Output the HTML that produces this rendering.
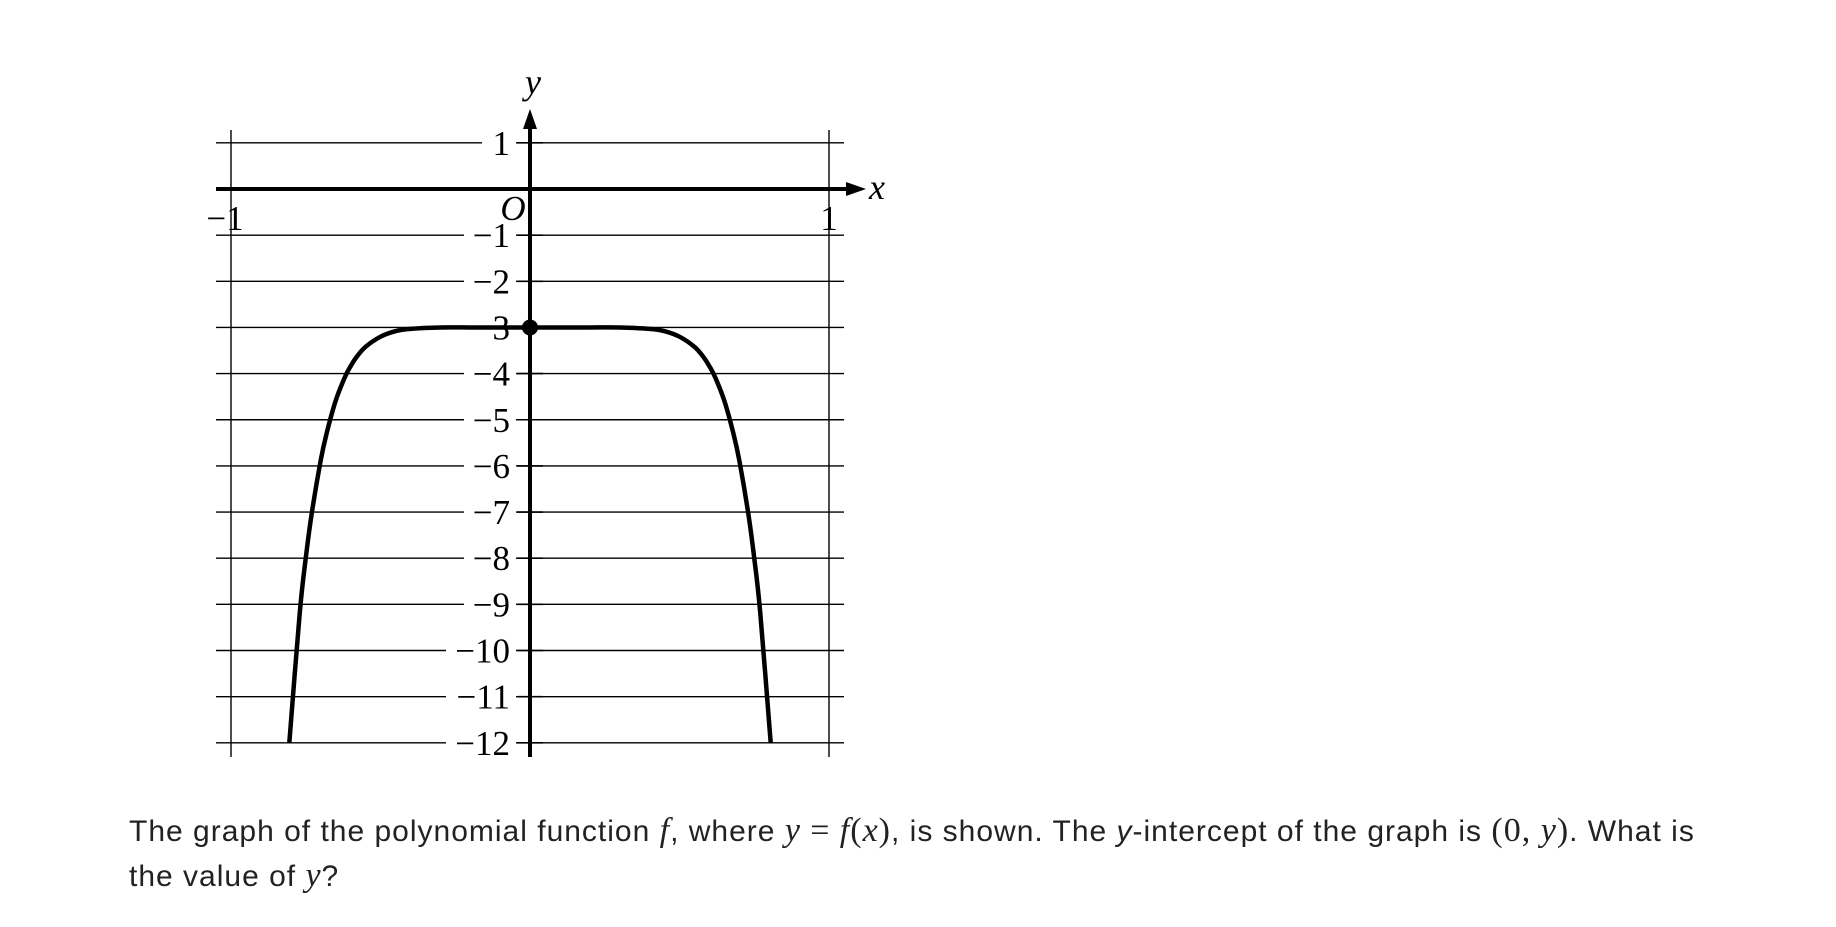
<!DOCTYPE html>
<html><head><meta charset="utf-8"><style>
html,body{margin:0;padding:0;background:#fff;}
body{width:1836px;height:927px;position:relative;overflow:hidden;}
svg{position:absolute;left:0;top:0;}
.q{position:absolute;left:129px;top:809px;width:1700px;font-family:"Liberation Sans",sans-serif;font-size:30px;line-height:44px;color:#222;letter-spacing:1px;white-space:nowrap;}
.m{font-family:"Liberation Serif",serif;font-style:italic;font-size:34px;}
.r{font-family:"Liberation Serif",serif;font-size:34px;}
</style></head><body>
<svg id="chart" width="1836" height="800" viewBox="0 0 1836 800"></svg>
<div class="q">The graph of the polynomial function <span class="m">f</span>, where <span class="m">y</span> <span class="r">=</span> <span class="m">f</span><span class="r">(</span><span class="m">x</span><span class="r">)</span>, is shown. The <i>y</i>-intercept of the graph is <span class="r">(0, </span><span class="m">y</span><span class="r">)</span>. What is<br>the value of <span class="m">y</span>?</div>
<script>
const yTicks=[1,-1,-2,-3,-4,-5,-6,-7,-8,-9,-10,-11,-12];
const xTicks=[-1,1];
const curveX=[-0.805,-0.77,-0.75,-0.73,-0.7,-0.68,-0.65,-0.62,-0.6,-0.58,-0.55,-0.5,-0.45,-0.4,-0.3,-0.2,-0.1,0,0.1,0.2,0.3,0.4,0.45,0.5,0.55,0.58,0.6,0.62,0.65,0.68,0.7,0.73,0.75,0.77,0.805];
const curveY=[-12,-9.18,-8.0,-7.03,-5.88,-5.29,-4.59,-4.09,-3.84,-3.64,-3.42,-3.2,-3.08,-3.03,-3.0,-3,-3,-3,-3,-3,-3.0,-3.03,-3.08,-3.2,-3.42,-3.64,-3.84,-4.09,-4.59,-5.29,-5.88,-7.03,-8.0,-9.18,-12];
const intercept=[0,-3];
const NS='http://www.w3.org/2000/svg';
const svg=document.getElementById('chart');
const X=v=>530+v*299, Y=v=>189-v*46.15;
function mk(t,a,p){const e=document.createElementNS(NS,t);for(const k in a)e.setAttribute(k,a[k]);(p||svg).appendChild(e);return e;}
for(const v of yTicks){
  const l=mk('line',{x1:216,x2:844,y1:Y(v),y2:Y(v),stroke:'#000','stroke-width':1.4});
  
  
}
for(const v of xTicks){
  const l=mk('line',{x1:X(v),x2:X(v),y1:130,y2:757,stroke:'#000','stroke-width':1.4});
  
  
}
for(const v of yTicks){
  const s=(v<0?'\u2212':'')+Math.abs(v);
  const w=s.length*18+8;
  const bg=mk('rect',{x:508-w,y:Y(v)-14,width:w+8,height:28,fill:'#fff'});
  
  
  const t=mk('text',{x:510,y:Y(v)+12,'text-anchor':'end','font-family':'Liberation Serif, serif','font-size':35,fill:'#000'});
  t.textContent=s;
  
  
  const tk=mk('line',{x1:517,x2:543,y1:Y(v),y2:Y(v),stroke:'#000','stroke-width':1.6});
  
  
}
for(const v of xTicks){
  const t=mk('text',{x:X(v)+(v<0?-6:0),y:230,'text-anchor':'middle','font-family':'Liberation Serif, serif','font-size':35,fill:'#000'});
  t.textContent=(v<0?'\u2212':'')+Math.abs(v);
  
  
}
const xa=mk('line',{x1:216,x2:850,y1:Y(0),y2:Y(0),stroke:'#000','stroke-width':4});


const xh=mk('polygon',{points:'866,'+Y(0)+' 846,'+(Y(0)-7)+' 846,'+(Y(0)+7),fill:'#000'});


const ya=mk('line',{x1:530,x2:530,y1:125,y2:757,stroke:'#000','stroke-width':4});


const yh=mk('polygon',{points:'530,109 523,129 537,129',fill:'#000'});


const xl=mk('text',{x:877,y:199,'text-anchor':'middle','font-family':'Liberation Serif, serif','font-style':'italic','font-size':36,fill:'#000'});
xl.textContent='x';


const yl=mk('text',{x:533,y:94,'text-anchor':'middle','font-family':'Liberation Serif, serif','font-style':'italic','font-size':36,fill:'#000'});
yl.textContent='y';


const ol=mk('text',{x:513,y:220,'text-anchor':'middle','font-family':'Liberation Serif, serif','font-style':'italic','font-size':35,fill:'#000'});
ol.textContent='O';


const P=curveX.map((x,i)=>[X(x),Y(curveY[i])]);
let d='M'+P[0][0]+','+P[0][1];
for(let i=0;i<P.length-1;i++){
  const p0=P[i-1]||P[i],p1=P[i],p2=P[i+1],p3=P[i+2]||P[i+1];
  d+=' C'+(p1[0]+(p2[0]-p0[0])/6)+','+(p1[1]+(p2[1]-p0[1])/6)+' '+(p2[0]-(p3[0]-p1[0])/6)+','+(p2[1]-(p3[1]-p1[1])/6)+' '+p2[0]+','+p2[1];
}
const c=mk('path',{d:d,fill:'none',stroke:'#000','stroke-width':4.5});


const dot=mk('circle',{cx:X(intercept[0]),cy:Y(intercept[1]),r:8,fill:'#000'});


</script>
</body></html>
